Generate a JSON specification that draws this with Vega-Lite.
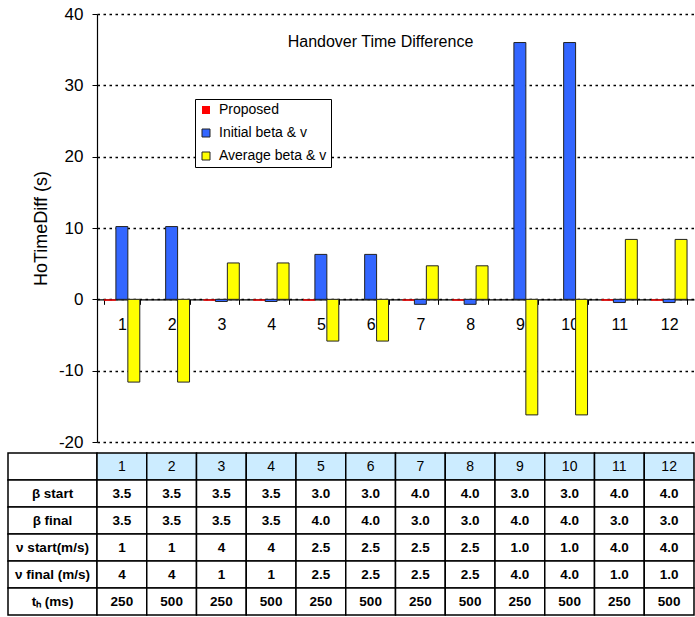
{
  "$schema": "https://vega.github.io/schema/vega-lite/v6.json",
  "autosize": {"type": "pad"},
  "padding": {"left": 7, "top": 5, "right": 0, "bottom": 0},
  "background": "white",
  "config": {
    "font": "Liberation Sans",
    "view": {"stroke": null},
    "axis": {"labelFont": "Liberation Sans", "titleFont": "Liberation Sans", "labelColor": "black", "titleColor": "black"}
  },
  "datasets": {
    "bars": [
      {"case": 1, "series": "Proposed", "value": -0.2},
      {"case": 2, "series": "Proposed", "value": 0},
      {"case": 3, "series": "Proposed", "value": -0.2},
      {"case": 4, "series": "Proposed", "value": -0.2},
      {"case": 5, "series": "Proposed", "value": -0.2},
      {"case": 6, "series": "Proposed", "value": 0},
      {"case": 7, "series": "Proposed", "value": -0.2},
      {"case": 8, "series": "Proposed", "value": -0.2},
      {"case": 9, "series": "Proposed", "value": 0},
      {"case": 10, "series": "Proposed", "value": 0},
      {"case": 11, "series": "Proposed", "value": -0.2},
      {"case": 12, "series": "Proposed", "value": -0.2},
      {"case": 1, "series": "Initial beta & v", "value": 10.2},
      {"case": 2, "series": "Initial beta & v", "value": 10.2},
      {"case": 3, "series": "Initial beta & v", "value": -0.3},
      {"case": 4, "series": "Initial beta & v", "value": -0.3},
      {"case": 5, "series": "Initial beta & v", "value": 6.3},
      {"case": 6, "series": "Initial beta & v", "value": 6.3},
      {"case": 7, "series": "Initial beta & v", "value": -0.7},
      {"case": 8, "series": "Initial beta & v", "value": -0.7},
      {"case": 9, "series": "Initial beta & v", "value": 36.0},
      {"case": 10, "series": "Initial beta & v", "value": 36.0},
      {"case": 11, "series": "Initial beta & v", "value": -0.45},
      {"case": 12, "series": "Initial beta & v", "value": -0.45},
      {"case": 1, "series": "Average beta & v", "value": -11.6},
      {"case": 2, "series": "Average beta & v", "value": -11.6},
      {"case": 3, "series": "Average beta & v", "value": 5.1},
      {"case": 4, "series": "Average beta & v", "value": 5.1},
      {"case": 5, "series": "Average beta & v", "value": -5.85},
      {"case": 6, "series": "Average beta & v", "value": -5.85},
      {"case": 7, "series": "Average beta & v", "value": 4.7},
      {"case": 8, "series": "Average beta & v", "value": 4.7},
      {"case": 9, "series": "Average beta & v", "value": -16.2},
      {"case": 10, "series": "Average beta & v", "value": -16.2},
      {"case": 11, "series": "Average beta & v", "value": 8.4},
      {"case": 12, "series": "Average beta & v", "value": 8.4}
    ],
    "cases": [
      {"case": 1, "bs": "3.5", "bf": "3.5", "vs": "1", "vf": "4", "th": "250"},
      {"case": 2, "bs": "3.5", "bf": "3.5", "vs": "1", "vf": "4", "th": "500"},
      {"case": 3, "bs": "3.5", "bf": "3.5", "vs": "4", "vf": "1", "th": "250"},
      {"case": 4, "bs": "3.5", "bf": "3.5", "vs": "4", "vf": "1", "th": "500"},
      {"case": 5, "bs": "3.0", "bf": "4.0", "vs": "2.5", "vf": "2.5", "th": "250"},
      {"case": 6, "bs": "3.0", "bf": "4.0", "vs": "2.5", "vf": "2.5", "th": "500"},
      {"case": 7, "bs": "4.0", "bf": "3.0", "vs": "2.5", "vf": "2.5", "th": "250"},
      {"case": 8, "bs": "4.0", "bf": "3.0", "vs": "2.5", "vf": "2.5", "th": "500"},
      {"case": 9, "bs": "3.0", "bf": "4.0", "vs": "1.0", "vf": "4.0", "th": "250"},
      {"case": 10, "bs": "3.0", "bf": "4.0", "vs": "1.0", "vf": "4.0", "th": "500"},
      {"case": 11, "bs": "4.0", "bf": "3.0", "vs": "4.0", "vf": "1.0", "th": "250"},
      {"case": 12, "bs": "4.0", "bf": "3.0", "vs": "4.0", "vf": "1.0", "th": "500"}
    ],
    "labels": [
      {"key": "hdr", "label": ""},
      {"key": "bs", "label": "β start"},
      {"key": "bf", "label": "β final"},
      {"key": "vs", "label": "ν start(m/s)"},
      {"key": "vf", "label": "ν final (m/s)"},
      {"key": "th", "label": "tₕ (ms)"}
    ]
  },
  "columns": 2,
  "bounds": "flush",
  "spacing": {"row": 11, "column": 0},
  "resolve": {
    "scale": {"fill": "independent", "stroke": "independent", "x": "independent", "y": "independent"},
    "legend": {"fill": "independent", "stroke": "independent"}
  },
  "concat": [
    {
      "width": 89,
      "height": 428,
      "data": {"values": []},
      "mark": {"type": "point", "opacity": 0},
      "encoding": {}
    },
    {
      "width": 597,
      "height": 428,
      "title": {
        "text": "Handover Time Difference",
        "font": "Liberation Sans",
        "fontSize": 16,
        "fontWeight": "normal",
        "color": "black",
        "anchor": "middle",
        "frame": "group",
        "baseline": "middle",
        "offset": 0,
        "dx": -15,
        "dy": 53
      },
      "data": {"name": "bars"},
      "mark": {"type": "bar", "strokeWidth": 1},
      "encoding": {
        "x": {
          "field": "case",
          "type": "ordinal",
          "title": null,
          "scale": {"paddingInner": 0.28, "paddingOuter": 0.14},
          "axis": {
            "offset": -142.67,
            "labelAngle": 0,
            "labelFontSize": 16,
            "labelPadding": 12,
            "domainColor": "black",
            "domainWidth": 1.2,
            "tickColor": "black",
            "tickSize": 5,
            "tickBand": "extent",
            "grid": false
          }
        },
        "xOffset": {
          "field": "series",
          "type": "nominal",
          "scale": {"domain": ["Proposed", "Initial beta & v", "Average beta & v"], "paddingInner": 0, "paddingOuter": 0}
        },
        "y": {
          "field": "value",
          "type": "quantitative",
          "title": "HoTimeDiff (s)",
          "scale": {"domain": [-20, 40], "nice": false, "zero": false},
          "axis": {
            "values": [-20, -10, 0, 10, 20, 30, 40],
            "labelExpr": "'' + datum.value",
            "labelFontSize": 17,
            "labelPadding": 9,
            "tickSize": 5,
            "tickColor": "black",
            "domainColor": "black",
            "domainWidth": 1.2,
            "titleFontSize": 18,
            "titleFontWeight": "normal",
            "titlePadding": 8,
            "grid": true,
            "gridColor": "black",
            "gridDash": [2.5, 3.5],
            "gridWidth": 1.5,
            "gridOpacity": 1
          }
        },
        "fill": {
          "field": "series",
          "type": "nominal",
          "scale": {"domain": ["Proposed", "Initial beta & v", "Average beta & v"], "range": ["#FF0000", "#3366FF", "#FFFF00"]},
          "legend": {
            "title": null,
            "orient": "none",
            "legendX": 98,
            "legendY": 85,
            "padding": 4,
            "strokeColor": "black",
            "fillColor": "white",
            "labelFontSize": 14,
            "labelFont": "Liberation Sans",
            "labelColor": "black",
            "labelOffset": 6,
            "symbolType": "square",
            "symbolSize": 64,
            "symbolStrokeWidth": 1,
            "rowPadding": 9
          }
        },
        "stroke": {
          "field": "series",
          "type": "nominal",
          "scale": {"domain": ["Proposed", "Initial beta & v", "Average beta & v"], "range": ["transparent", "#222222", "#222222"]},
          "legend": {
            "title": null,
            "orient": "none",
            "legendX": 98,
            "legendY": 85,
            "padding": 4,
            "strokeColor": "black",
            "fillColor": "white",
            "labelFontSize": 14,
            "labelFont": "Liberation Sans",
            "labelColor": "black",
            "labelOffset": 6,
            "symbolType": "square",
            "symbolSize": 64,
            "symbolStrokeWidth": 1,
            "rowPadding": 9
          }
        }
      }
    },
    {
      "width": 89,
      "height": 162,
      "data": {"name": "labels"},
      "encoding": {
        "x": {"datum": "c", "type": "nominal", "scale": {"paddingInner": 0, "paddingOuter": 0}, "axis": null},
        "y": {"field": "key", "type": "nominal", "scale": {"domain": ["hdr", "bs", "bf", "vs", "vf", "th"], "paddingInner": 0, "paddingOuter": 0}, "axis": null}
      },
      "layer": [
        {"mark": {"type": "rect", "fill": "white", "stroke": "black", "strokeWidth": 1.5}},
        {"mark": {"type": "text", "font": "Liberation Sans", "fontSize": 13.5, "fontWeight": "bold", "color": "black"}, "encoding": {"text": {"field": "label"}}}
      ]
    },
    {
      "width": 597,
      "height": 162,
      "data": {"name": "cases"},
      "encoding": {
        "x": {"field": "case", "type": "ordinal", "scale": {"paddingInner": 0, "paddingOuter": 0}, "axis": null}
      },
      "layer": [
        {
          "mark": {"type": "rect", "fill": "#CCECFF", "stroke": "black", "strokeWidth": 1.5},
          "encoding": {"y": {"datum": "hdr", "type": "nominal", "scale": {"domain": ["hdr", "bs", "bf", "vs", "vf", "th"], "paddingInner": 0, "paddingOuter": 0}, "axis": null}}
        },
        {
          "mark": {"type": "text", "font": "Liberation Sans", "fontSize": 14, "color": "black"},
          "encoding": {
            "y": {"datum": "hdr", "type": "nominal"},
            "text": {"field": "case", "type": "ordinal"}
          }
        },
        {
          "transform": [{"fold": ["bs", "bf", "vs", "vf", "th"], "as": ["key", "val"]}],
          "mark": {"type": "rect", "fill": "white", "stroke": "black", "strokeWidth": 1.5},
          "encoding": {"y": {"field": "key", "type": "nominal"}}
        },
        {
          "transform": [{"fold": ["bs", "bf", "vs", "vf", "th"], "as": ["key", "val"]}],
          "mark": {"type": "text", "font": "Liberation Sans", "fontSize": 13.5, "fontWeight": "bold", "color": "black"},
          "encoding": {"y": {"field": "key", "type": "nominal"}, "text": {"field": "val"}}
        }
      ]
    }
  ]
}
